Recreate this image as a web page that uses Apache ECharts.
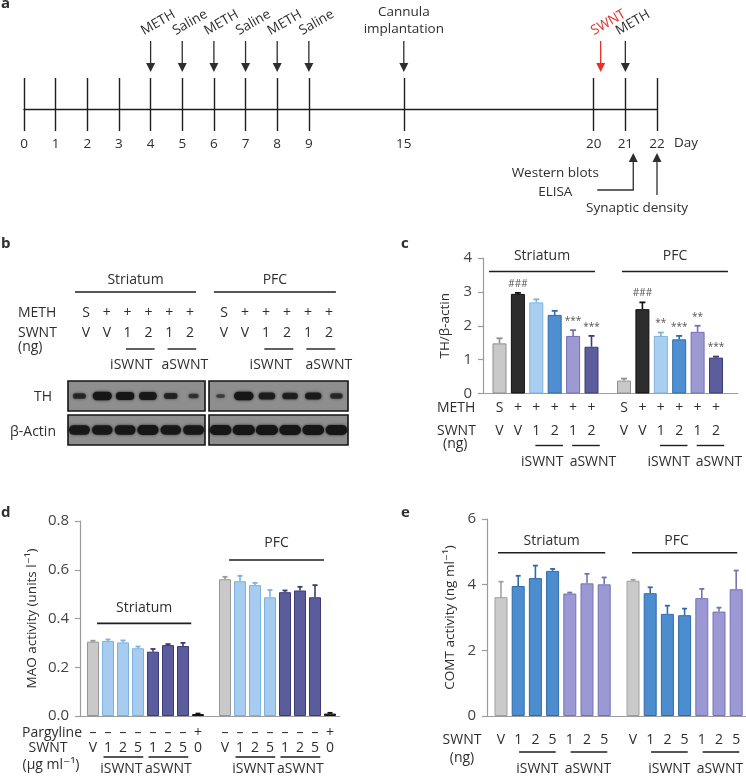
<!DOCTYPE html>
<html>
<head>
<meta charset="utf-8">
<script src="https://cdn.jsdelivr.net/npm/echarts@6.0.0/dist/echarts.min.js"></script>
<style>
html,body{margin:0;padding:0;background:#fff;}
#chart{width:746px;height:777px;}
</style>
</head>
<body>
<div id="chart"></div>
<script>
// ================= DATA =================
// (a) timeline
const timelineDays = ['0','1','2','3','4','5','6','7','8','9','','','15','','','','','','20','21','22'];
const timelineUnit = 'Day';
const injectionDays = ['4','5','6','7','8','9'];
const injectionLabels = ['METH','Saline','METH','Saline','METH','Saline'];
const implantDay = '15';
const implantLabel = 'Cannula\nimplantation';
const swntDay = '20';
const swntLabel = 'SWNT';
const challengeDay = '21';
const challengeLabel = 'METH';
const assayDays = ['21', '22'];
const assayLabels = ['Western blots\nELISA', 'Synaptic density'];

const regions = ['Striatum', 'PFC'];
const swntTypes = ['iSWNT', 'aSWNT'];

// (b) western blot
const blotMethRow = ['S','+','+','+','+','+'];
const blotSwntRow = ['V','V','1','2','1','2'];
const blotSubLanes = [[2,3],[4,5]];
const blotRowNames = ['TH', 'β-Actin'];
const thBandStriatum = [0.55, 1.0, 0.95, 0.9, 0.6, 0.35];
const thBandPFC = [0.22, 1.0, 0.8, 0.72, 0.78, 0.5];
const actinBandStriatum = [0.92, 0.9, 0.92, 0.95, 0.9, 0.92];
const actinBandPFC = [0.95, 1.0, 1.0, 0.95, 0.95, 0.95];

// (c) TH / beta-actin
const cMethRow = ['S','+','+','+','+','+'];
const cSwntRow = ['V','V','1','2','1','2'];
const cSubLanes = [[2,3],[4,5]];
const thStriatum = [1.48, 2.94, 2.69, 2.32, 1.70, 1.38];
const thStriatumErr = [0.15, 0.03, 0.09, 0.12, 0.17, 0.32];
const thPFC = [0.38, 2.49, 1.70, 1.60, 1.82, 1.06];
const thPFCErr = [0.06, 0.20, 0.10, 0.10, 0.18, 0.03];
const thStriatumSig = ['', '###', '', '', '***', '***'];
const thPFCSig = ['', '###', '**', '***', '**', '***'];
const cYTicks = [0, 1, 2, 3, 4];
const cYName = 'TH/β-actin';

// (d) MAO activity
const dPargylineRow = ['–','–','–','–','–','–','–','+'];
const dSwntRow = ['V','1','2','5','1','2','5','0'];
const dSubLanes = [[1,3],[4,6]];
const maoStriatum = [0.305, 0.308, 0.302, 0.278, 0.264, 0.291, 0.287, 0.008];
const maoStriatumErr = [0.004, 0.006, 0.008, 0.007, 0.011, 0.004, 0.013, 0.002];
const maoPFC = [0.561, 0.553, 0.537, 0.487, 0.508, 0.515, 0.487, 0.010];
const maoPFCErr = [0.010, 0.022, 0.009, 0.030, 0.007, 0.015, 0.050, 0.003];
const dYTicks = [0, 0.2, 0.4, 0.6, 0.8];
const dYName = 'MAO activity (units l⁻¹)';

// (e) COMT activity
const eSwntRow = ['V','1','2','5','1','2','5'];
const eSubLanes = [[1,3],[4,6]];
const comtStriatum = [3.62, 3.96, 4.20, 4.42, 3.73, 4.04, 4.01];
const comtStriatumErr = [0.47, 0.31, 0.38, 0.06, 0.03, 0.29, 0.21];
const comtPFC = [4.12, 3.74, 3.11, 3.07, 3.59, 3.18, 3.86];
const comtPFCErr = [0.03, 0.18, 0.25, 0.20, 0.28, 0.12, 0.57];
const eYTicks = [0, 2, 4, 6];
const eYName = 'COMT activity (ng ml⁻¹)';

// ================= STYLE =================
const FONT = '"Open Sans", "DejaVu Sans", sans-serif';
const INK = '#2e2e2e';
const AXIS = '#9c9c9c';
const RED = '#e8302a';
const cFill = ['#c9c9c9','#2d2d2d','#a8cff0','#4f8fd1','#9c99d3','#5c5d9d'];
const cStroke = ['#8f8f8f','#111111','#7fb2df','#2f6aaa','#7470b3','#3b3c76'];
const dFill = ['#c9c9c9','#a6ccef','#a6ccef','#a6ccef','#5b5c9c','#5b5c9c','#5b5c9c','#3a3a3a'];
const dStroke = ['#979797','#7fb1e0','#7fb1e0','#7fb1e0','#3b3c76','#3b3c76','#3b3c76','#111111'];
const eFill = ['#cacaca','#4c8dd0','#4c8dd0','#4c8dd0','#9b98d3','#9b98d3','#9b98d3'];
const eStroke = ['#a0a0a0','#2f6aaa','#2f6aaa','#2f6aaa','#7572b5','#7572b5','#7572b5'];

// ================= BUILDERS =================
const grids = [], xAxes = [], yAxes = [], series = [];
const off = {show:false};
function addGrid(rect, xa, ya) {
  const gi = grids.length;
  grids.push(Object.assign({containLabel:false, outerBoundsMode:'none'}, rect));
  xAxes.push(Object.assign({gridIndex: gi}, xa));
  yAxes.push(Object.assign({gridIndex: gi}, ya));
  return gi;
}
const idxCats = n => Array.from({length:n}, (_, i) => 'c' + i);
function catAxis(n, label) {
  return {type:'category', data: idxCats(n), axisLine:off, axisTick:off, splitLine:off,
    axisLabel: label ? Object.assign({show:true, interval:0, color:INK, fontFamily:FONT, fontSize:14}, label) : off};
}
const hiddenY = (min, max) => ({type:'value', min, max, show:false});
function txt(text, size, color, align, valign, extra) {
  return Object.assign({text, font: size + 'px ' + FONT, fill: color || INK,
    align: align || 'center', textAlign: align || 'center',
    verticalAlign: valign || 'middle', textVerticalAlign: valign || 'middle'}, extra || {});
}

// header line + region label
function headerSeries(gi, spec) {
  return {type:'custom', xAxisIndex:gi, yAxisIndex:gi, silent:true, z:5, clip:false,
    data:[[spec.start, spec.level]],
    renderItem(p, api) {
      const w = api.size([1, 0])[0];
      const a = api.coord([spec.start, spec.level]), b = api.coord([spec.end, spec.level]);
      const y = a[1] + (spec.dy || 0);
      const x1 = a[0] + spec.l * w, x2 = b[0] + spec.r * w;
      return {type:'group', children:[
        {type:'line', shape:{x1, y1:y, x2, y2:y}, style:{stroke:'#1e1e1e', lineWidth:1.6}},
        {type:'text', x:(x1 + x2) / 2 + (spec.dx || 0), y:y + spec.tdy, style: txt(spec.label, 14)}
      ]};
    }};
}
// sub-group underline + label (iSWNT / aSWNT)
function bracketSeries(gi, lanes, labels, spec) {
  return {type:'custom', xAxisIndex:gi, yAxisIndex:gi, silent:true, z:5, clip:false,
    data: lanes.map(g => [g[0], spec.base]),
    renderItem(p, api) {
      const g = lanes[p.dataIndex];
      const w = api.size([1, 0])[0];
      const a = api.coord([g[0], spec.base]), b = api.coord([g[1], spec.base]);
      const x1 = a[0] + spec.l * w, x2 = b[0] + spec.r * w;
      const y = a[1] + spec.dy;
      return {type:'group', children:[
        {type:'line', shape:{x1, y1:y, x2, y2:y}, style:{stroke:'#1e1e1e', lineWidth:1.4}},
        {type:'text', x:(x1 + x2) / 2 + spec.dx[p.dataIndex], y:a[1] + spec.tdy, style: txt(labels[p.dataIndex], 14)}
      ]};
    }};
}
function barSeries(gi, values, fill, stroke, bw) {
  return {type:'bar', xAxisIndex:gi, yAxisIndex:gi, barWidth:bw, silent:true, z:2,
    data: values.map((v, i) => ({value:v, itemStyle:{color:fill[i], borderColor:stroke[i], borderWidth:1}}))};
}
function errSeries(gi, values, errs, colors, cap) {
  return {type:'custom', xAxisIndex:gi, yAxisIndex:gi, silent:true, z:3, clip:false,
    data: values.map((v, i) => [i, v, errs[i]]),
    renderItem(p, api) {
      const i = api.value(0), m = api.value(1), e = api.value(2);
      const b = api.coord([i, m]), t = api.coord([i, m + e]);
      const c = colors[p.dataIndex];
      return {type:'group', children:[
        {type:'line', shape:{x1:b[0], y1:b[1], x2:t[0], y2:t[1]}, style:{stroke:c, lineWidth:1.6}},
        {type:'line', shape:{x1:t[0] - cap / 2, y1:t[1], x2:t[0] + cap / 2, y2:t[1]}, style:{stroke:c, lineWidth:1.8}}
      ]};
    }};
}
function sigSeries(gi, values, errs, marks) {
  return {type:'custom', xAxisIndex:gi, yAxisIndex:gi, silent:true, z:4, clip:false,
    data: values.map((v, i) => [i, v + errs[i]]),
    renderItem(p, api) {
      const m = marks[p.dataIndex];
      if (!m) return null;
      const t = api.coord([api.value(0), api.value(1)]);
      return {type:'text', x:t[0], y:t[1] - 9, style: txt(m, 10, '#555')};
    }};
}

// ================= PANEL A =================
const tlCats = timelineDays.map((d, i) => d === '' ? 'gap' + i : d);
const gA = addGrid({left:24, top:78, width:633, height:53},
  {type:'category', data: tlCats, boundaryGap:false,
   axisLine:{show:true, onZero:true, lineStyle:{color:'#1e1e1e', width:1.3}},
   axisTick:off,
   splitLine:{show:true, interval:(i, v) => !String(v).startsWith('gap'), lineStyle:{color:'#1e1e1e', width:1.4}},
   axisLabel:{show:true, interval:0, margin:6, fontFamily:FONT, fontSize:13.5, color:INK,
     formatter: v => String(v).startsWith('gap') ? '' : v}},
  {type:'value', min:-22, max:31, show:false});

function xAt(api, idx, frac) {
  const a = api.coord([idx, 0]);
  if (!frac) return a[0];
  const b = api.coord([idx + 1, 0]);
  return a[0] + frac * (b[0] - a[0]);
}
// axis unit label, placed to the right of the last day
series.push({type:'custom', xAxisIndex:gA, yAxisIndex:gA, silent:true, clip:false,
  data:[[timelineDays.length - 1, 0]],
  renderItem(p, api) {
    const c = api.coord([api.value(0), 0]);
    return {type:'text', x:c[0] + 17, y:c[1] + 34, style: txt(timelineUnit, 13.5, INK, 'left', 'middle')};
  }});
const downEvents = injectionDays.map((d, i) => ({day:d, label:injectionLabels[i], color:INK, rotated:true, frac:0}))
  .concat([{day:implantDay, label:implantLabel, color:INK, rotated:false, frac:0},
           {day:swntDay, label:swntLabel, color:RED, rotated:true, frac:0.22},
           {day:challengeDay, label:challengeLabel, color:INK, rotated:true, frac:0}]);
series.push({type:'custom', xAxisIndex:gA, yAxisIndex:gA, silent:true, clip:false,
  data: downEvents.map(e => [timelineDays.indexOf(e.day), 0]),
  renderItem(p, api) {
    const ev = downEvents[p.dataIndex];
    const idx = api.value(0);
    const x = xAt(api, idx, ev.frac);
    const y0 = api.coord([idx, 0])[1];
    const top = y0 - 68, tip = y0 - 37;
    const ch = [
      {type:'line', shape:{x1:x, y1:top, x2:x, y2:tip - 8}, style:{stroke:ev.color, lineWidth:1.3}},
      {type:'polygon', shape:{points:[[x - 4.5, tip - 9], [x + 4.5, tip - 9], [x, tip]]}, style:{fill:ev.color}}
    ];
    if (ev.rotated) {
      ch.push({type:'text', x:x - 5, y:top - 3, rotation:Math.PI / 6,
        style: txt(ev.label, 13.5, ev.color, 'left', 'bottom')});
    } else {
      ch.push({type:'text', x:x, y:top - 3, style: txt(ev.label, 13.5, ev.color, 'center', 'bottom', {lineHeight:17})});
    }
    return {type:'group', children:ch};
  }});
const upEvents = [{frac:0.25, elbow:true}, {frac:0, elbow:false}];
series.push({type:'custom', xAxisIndex:gA, yAxisIndex:gA, silent:true, clip:false,
  data: assayDays.map(d => [timelineDays.indexOf(d), 0]),
  renderItem(p, api) {
    const st = upEvents[p.dataIndex];
    const idx = api.value(0);
    const x = xAt(api, idx, st.frac);
    const y0 = api.coord([idx, 0])[1];
    const tip = y0 + 44;
    const bottom = st.elbow ? y0 + 81 : y0 + 86;
    const ch = [
      {type:'line', shape:{x1:x, y1:tip + 8, x2:x, y2:bottom}, style:{stroke:INK, lineWidth:1.3}},
      {type:'polygon', shape:{points:[[x - 4.5, tip + 9], [x + 4.5, tip + 9], [x, tip]]}, style:{fill:INK}}
    ];
    if (st.elbow) {
      ch.push({type:'line', shape:{x1:x - 36, y1:bottom, x2:x + 0.6, y2:bottom}, style:{stroke:INK, lineWidth:1.3}});
      ch.push({type:'text', x:x - 78, y:y0 + 73.5, style: txt(assayLabels[p.dataIndex], 13.5, INK, 'center', 'middle', {lineHeight:19})});
    } else {
      ch.push({type:'text', x:x - 20, y:y0 + 99, style: txt(assayLabels[p.dataIndex], 13.5)});
    }
    return {type:'group', children:ch};
  }});

// ================= PANEL B =================
const bLabRects = [{left:75.6, top:290, width:124.8, height:13}, {left:213.5, top:290, width:126, height:13}];
const bHdr = [{l:-0.53, r:0.29}, {l:-0.48, r:0.33}];
const bBrDx = [[-9, 3], [-8, 8]];
bLabRects.forEach((rect, k) => {
  const gi = addGrid(rect, catAxis(6, {margin:0, lineHeight:20,
      formatter:(v, i) => blotMethRow[i] + '\n' + blotSwntRow[i]}), hiddenY(0, 1));
  series.push({type:'bar', xAxisIndex:gi, yAxisIndex:gi, data:[], silent:true});
  series.push(headerSeries(gi, {start:0, end:5, level:1, dy:2, l:bHdr[k].l, r:bHdr[k].r, tdy:-12, label:regions[k]}));
  series.push(bracketSeries(gi, blotSubLanes, swntTypes, {base:0, l:-0.08, r:0.3, dy:46, tdy:62, dx:bBrDx[k]}));
});
const blotBands = [[thBandStriatum, thBandPFC], [actinBandStriatum, actinBandPFC]];
const blotSize = [{rx0:0.12, rx1:0.3, ry0:1.2, ry1:3.0}, {rx0:0.2, rx1:0.28, ry0:1.5, ry1:3.6}];
const blotTops = [381, 415];
const blotBoxes = [{left:68, width:137}, {left:209, width:139}];
blotBands.forEach((pair, row) => {
  pair.forEach((bands, k) => {
    const gi = addGrid({left:blotBoxes[k].left, width:blotBoxes[k].width, top:blotTops[row], height:30,
        show:true, backgroundColor:'#8e8e8e', borderColor:'#151515', borderWidth:1.6},
      {type:'category', data:idxCats(6), show:false}, hiddenY(0, 1));
    const sz = blotSize[row];
    series.push({type:'custom', xAxisIndex:gi, yAxisIndex:gi, silent:true,
      data: bands.map((v, i) => [i, 0.5, v]),
      renderItem(p, api) {
        const c = api.coord([api.value(0), api.value(1)]);
        const v = api.value(2);
        const w = api.size([1, 0])[0];
        const rx = w * (sz.rx0 + sz.rx1 * v), ry = sz.ry0 + sz.ry1 * v;
        return {type:'rect', shape:{x:c[0] - rx, y:c[1] - ry, width:2 * rx, height:2 * ry, r:ry},
          style:{fill:'#161616', opacity:0.45 + 0.55 * v, shadowBlur:3, shadowColor:'rgba(0,0,0,0.7)'}};
      }});
  });
});

// ================= BAR PANELS (c, d, e) =================
function bgGrid(rect, ticks, name, gap, fmt) {
  return addGrid(rect,
    {type:'value', min:0, max:1, axisLine:{show:true, onZero:false, lineStyle:{color:AXIS, width:1.2}},
     axisTick:off, axisLabel:off, splitLine:off},
    {type:'value', min:ticks[0], max:ticks[ticks.length - 1], interval:ticks[1] - ticks[0],
     name, nameLocation:'middle', nameGap:gap, nameRotate:90,
     nameTextStyle:{fontFamily:FONT, fontSize:13.5, color:INK},
     axisLine:{show:true, lineStyle:{color:AXIS, width:1.2}},
     axisTick:{show:true, length:5, lineStyle:{color:AXIS, width:1.2}},
     axisLabel:{show:true, fontFamily:FONT, fontSize:15, color:'#444', margin:11, formatter:fmt},
     splitLine:off});
}

// (c)
bgGrid({left:483, top:258, width:255, height:135.5}, cYTicks, cYName, 31, v => String(v));
const cGroups = [
  {rect:{left:490.3, top:258, width:110.4, height:135.5}, vals:thStriatum, errs:thStriatumErr, sig:thStriatumSig,
   hdr:{l:-0.57, r:0.19, dx:0}, dx:[-7, 7]},
  {rect:{left:614.8, top:258, width:110.4, height:135.5}, vals:thPFC, errs:thPFCErr, sig:thPFCSig,
   hdr:{l:-0.11, r:0.65, dx:0}, dx:[-5, 8.5]}
];
cGroups.forEach((g, k) => {
  const gi = addGrid(g.rect, catAxis(6, {margin:3.5, lineHeight:23,
      formatter:(v, i) => cMethRow[i] + '\n' + cSwntRow[i]}), hiddenY(cYTicks[0], cYTicks[cYTicks.length - 1]));
  series.push(barSeries(gi, g.vals, cFill, cStroke, 14));
  series.push(errSeries(gi, g.vals, g.errs, cStroke, 6));
  series.push(sigSeries(gi, g.vals, g.errs, g.sig));
  series.push(headerSeries(gi, {start:0, end:5, level:3.6, l:g.hdr.l, r:g.hdr.r, dx:g.hdr.dx, tdy:-16, label:regions[k]}));
  series.push(bracketSeries(gi, cSubLanes, swntTypes, {base:0, l:-0.05, r:0.45, dy:52, tdy:69, dx:g.dx}));
});

// (d)
bgGrid({left:80, top:521, width:260, height:195}, dYTicks, dYName, 41, v => v.toFixed(1));
const dGroups = [
  {rect:{left:85.5, top:521, width:120, height:195}, vals:maoStriatum, errs:maoStriatumErr,
   hdr:{level:0.38, l:0.27, r:0.55, tdy:-15}},
  {rect:{left:217.5, top:521, width:120, height:195}, vals:maoPFC, errs:maoPFCErr,
   hdr:{level:0.64, l:0.27, r:0.6, tdy:-17}}
];
dGroups.forEach((g, k) => {
  const gi = addGrid(g.rect, catAxis(8, {margin:9, lineHeight:15.5,
      formatter:(v, i) => dPargylineRow[i] + '\n' + dSwntRow[i]}), hiddenY(dYTicks[0], dYTicks[dYTicks.length - 1]));
  series.push(barSeries(gi, g.vals, dFill, dStroke, 12));
  series.push(errSeries(gi, g.vals, g.errs, dStroke, 5));
  series.push(headerSeries(gi, {start:0, end:6, level:g.hdr.level, l:g.hdr.l, r:g.hdr.r, tdy:g.hdr.tdy, label:regions[k]}));
  series.push(bracketSeries(gi, dSubLanes, swntTypes, {base:0, l:-0.3, r:0.35, dy:41, tdy:53, dx:[-2, 0]}));
});

// (e)
bgGrid({left:487, top:519, width:259, height:197}, eYTicks, eYName, 30, v => String(v));
const eGroups = [
  {rect:{left:492.4, top:519, width:120.4, height:197}, vals:comtStriatum, errs:comtStriatumErr,
   hdr:{l:-0.17, r:0.06, dx:0}},
  {rect:{left:624.4, top:519, width:120.4, height:197}, vals:comtPFC, errs:comtPFCErr,
   hdr:{l:-0.06, r:0.06, dx:-8}}
];
eGroups.forEach((g, k) => {
  const gi = addGrid(g.rect, catAxis(7, {margin:16, lineHeight:16,
      formatter:(v, i) => eSwntRow[i]}), hiddenY(eYTicks[0], eYTicks[eYTicks.length - 1]));
  series.push(barSeries(gi, g.vals, eFill, eStroke, 13));
  series.push(errSeries(gi, g.vals, g.errs, eStroke, 5));
  series.push(headerSeries(gi, {start:0, end:6, level:4.97, l:g.hdr.l, r:g.hdr.r, dx:g.hdr.dx, tdy:-12, label:regions[k]}));
  series.push(bracketSeries(gi, eSubLanes, swntTypes, {base:0, l:0.05, r:0.18, dy:36, tdy:53, dx:[0, -1]}));
});

// ================= STATIC TEXT =================
function gText(text, x, y, size, align, bold) {
  return {type:'text', x, y, silent:true,
    style: txt(text, size, INK, align || 'center', 'middle', bold ? {font:'bold ' + size + 'px ' + FONT} : {})};
}
const graphics = [
  gText('a', 1, 4, 15, 'left', true),
  gText('b', 1, 244, 15, 'left', true),
  gText('c', 401, 244, 15, 'left', true),
  gText('d', 1, 513, 15, 'left', true),
  gText('e', 401, 513, 15, 'left', true),
  gText('METH', 18, 313, 14, 'left'),
  gText('SWNT', 18, 333, 14, 'left'),
  gText('(ng)', 18, 347, 14, 'left'),
  gText(blotRowNames[0], 43, 397, 14),
  gText(blotRowNames[1], 33, 432, 14),
  gText('METH', 437, 408, 14, 'left'),
  gText('SWNT', 437, 431, 14, 'left'),
  gText('(ng)', 443, 444, 14, 'left'),
  gText('Pargyline', 52, 733, 14),
  gText('SWNT', 48, 748.5, 14),
  gText('(µg ml⁻¹)', 51, 765, 14),
  gText('SWNT', 462, 740, 14),
  gText('(ng)', 462, 758, 14)
];

const chart = echarts.init(document.getElementById('chart'), null, {renderer:'canvas'});
chart.setOption({
  animation:false,
  backgroundColor:'#ffffff',
  textStyle:{fontFamily:FONT},
  grid:grids, xAxis:xAxes, yAxis:yAxes, series, graphic:graphics
});
</script>
</body>
</html>
